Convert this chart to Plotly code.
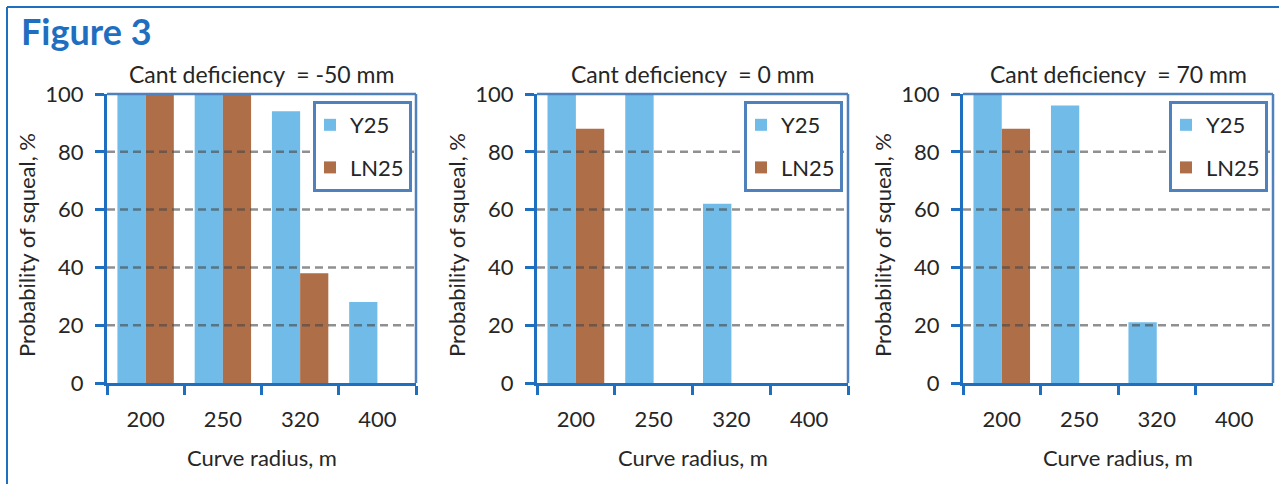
import plotly.graph_objects as go

W, H = 1279, 484

radii = ["200", "250", "320", "400"]
cant_labels = ["Cant deficiency\u00a0 = -50 mm", "Cant deficiency\u00a0 = 0 mm", "Cant deficiency\u00a0 = 70 mm"]
y25_m50 = [100, 100, 94, 28]
ln25_m50 = [100, 100, 38, 0]
y25_0 = [100, 100, 62, 0]
ln25_0 = [88, 0, 0, 0]
y25_70 = [100, 96, 21, 0]
ln25_70 = [88, 0, 0, 0]
y_ticks = [0, 20, 40, 60, 80, 100]
grid_vals = [20, 40, 60, 80]

series = [(y25_m50, ln25_m50), (y25_0, ln25_0), (y25_70, ln25_70)]

C_Y25 = "#70BBE8"
C_LN25 = "#AD6E48"
AXIS_BLUE = "#1F6FC0"
FRAME_BLUE = "#4F81BD"
TXT = "#262626"
FONT = "Lato"

# pixel layout
x_px = [(107, 416), (537, 848), (963, 1273)]
y_top, y_bot = 94, 383
ytitle_x = [26, 456, 882]
legend_right = [412, 843, 1268]

def px_x(p):
    return p / W

def px_y(p):
    return 1 - p / H

fig = go.Figure()
layout = dict(
    template="none",
    width=W, height=H, autosize=False,
    margin=dict(l=0, r=0, t=0, b=0, pad=0, autoexpand=False),
    paper_bgcolor="white", plot_bgcolor="white",
    barmode="group", bargap=0.27, bargroupgap=0,
    font=dict(family=FONT, size=22, color=TXT),
    showlegend=True,
)
annotations = []
shapes = []

for i, (yv, lv) in enumerate(series):
    n = "" if i == 0 else str(i + 1)
    xa, ya = "x" + n, "y" + n
    leg = "legend" + n
    fig.add_trace(go.Bar(x=radii, y=yv, name="Y25", marker=dict(color=C_Y25, line=dict(width=0)),
                         xaxis=xa, yaxis=ya, legend=leg, legendgroup="a"))
    fig.add_trace(go.Bar(x=radii, y=lv, name="LN25", marker=dict(color=C_LN25, line=dict(width=0)),
                         xaxis=xa, yaxis=ya, legend=leg, legendgroup="b"))
    x0, x1 = x_px[i]
    layout["xaxis" + n] = dict(
        domain=[px_x(x0), px_x(x1)], anchor=ya, type="category", automargin=False,
        showline=True, linecolor=AXIS_BLUE, linewidth=3,
        ticks="outside", tickson="boundaries", ticklen=9, tickwidth=3, tickcolor=AXIS_BLUE,
        showgrid=False, tickfont=dict(size=22, color=TXT, family=FONT), ticklabelstandoff=15,
        fixedrange=True,
    )
    layout["yaxis" + n] = dict(
        domain=[px_y(y_bot), px_y(y_top)], anchor=xa, range=[0, 100], automargin=False,
        tickvals=y_ticks, showline=True, linecolor=AXIS_BLUE, linewidth=3,
        ticks="outside", ticklen=9, tickwidth=3, tickcolor=AXIS_BLUE,
        showgrid=False, zeroline=False, tickfont=dict(size=22, color=TXT, family=FONT),
        ticklabelstandoff=7, fixedrange=True,
    )
    layout[leg] = dict(
        x=px_x(legend_right[i]), y=px_y(101), xanchor="right", yanchor="top",
        bordercolor=FRAME_BLUE, borderwidth=3, bgcolor="white",
        font=dict(size=22, color=TXT, family=FONT), traceorder="grouped", tracegroupgap=11,
        itemwidth=30, indentation=-6,
    )
    # gridlines over bars
    for g in grid_vals:
        shapes.append(dict(type="line", xref=xa + " domain", yref=ya, x0=0, x1=1, y0=g, y1=g,
                           line=dict(color="rgba(70,70,70,0.6)", width=2.5, dash="8px,5px"), layer="above"))
    # top and right frame of plot area
    shapes.append(dict(type="line", xref=xa + " domain", yref=ya + " domain", x0=0, x1=1, y0=1, y1=1,
                       line=dict(color=FRAME_BLUE, width=2.5), layer="above"))
    shapes.append(dict(type="line", xref=xa + " domain", yref=ya + " domain", x0=1, x1=1, y0=0, y1=1,
                       line=dict(color=FRAME_BLUE, width=2.5), layer="above"))
    cx = (x0 + x1) / 2
    annotations.append(dict(text=cant_labels[i], x=px_x(cx), y=px_y(74), xref="paper", yref="paper",
                            xanchor="center", yanchor="middle", showarrow=False,
                            font=dict(size=23, color=TXT, family=FONT)))
    annotations.append(dict(text="Curve radius, m", x=px_x(cx), y=px_y(457), xref="paper", yref="paper",
                            xanchor="center", yanchor="middle", showarrow=False,
                            font=dict(size=22, color=TXT, family=FONT)))
    annotations.append(dict(text="Probability of squeal, %", x=px_x(ytitle_x[i]), y=px_y(245),
                            xref="paper", yref="paper", xanchor="center", yanchor="middle",
                            textangle=-90, showarrow=False, font=dict(size=22, color=TXT, family=FONT)))

annotations.append(dict(text="<b>Figure 3</b>", x=px_x(19), y=px_y(31), xref="paper", yref="paper",
                        xanchor="left", yanchor="middle", showarrow=False,
                        font=dict(size=36, color=AXIS_BLUE, family=FONT)))

# outer frame (top and left edges)
shapes.append(dict(type="line", xref="paper", yref="paper", x0=px_x(7), x1=1, y0=px_y(7), y1=px_y(7),
                   line=dict(color=AXIS_BLUE, width=2), layer="above"))
shapes.append(dict(type="line", xref="paper", yref="paper", x0=px_x(7), x1=px_x(7), y0=0, y1=px_y(7),
                   line=dict(color=AXIS_BLUE, width=2), layer="above"))

layout["annotations"] = annotations
layout["shapes"] = shapes
fig.update_layout(**layout)
fig.write_html("out.html", config={"displayModeBar": False},
               post_script="document.body.style.margin='0';")
